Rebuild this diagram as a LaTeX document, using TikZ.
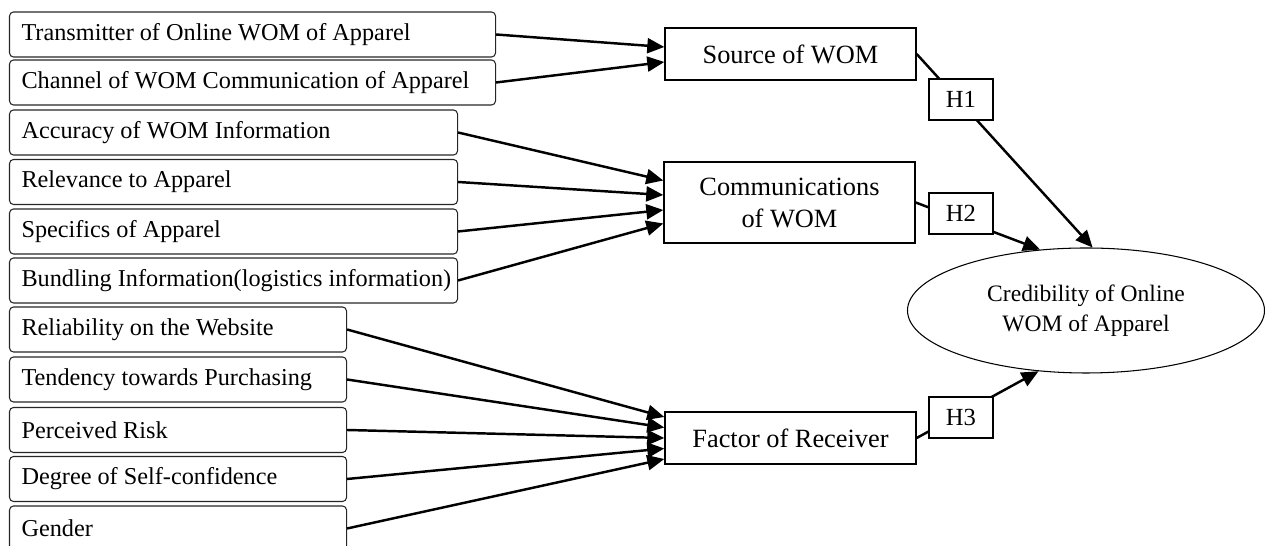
\documentclass[tikz,border=0pt]{standalone}
\usepackage{fontspec}
\setmainfont{Liberation Serif}
\usepackage{tikz}
\usetikzlibrary{arrows.meta,shapes.geometric}
\tikzset{
  cbitem/.style={draw=black!85, line width=0.6pt, rounded corners=0.08cm, anchor=west, minimum height=0.9cm, inner xsep=0.24cm, align=flush left, font=\fontsize{13.8}{16}\selectfont},
  cbitemA/.style={cbitem, text width=9.24cm},
  cbitemB/.style={cbitem, text width=8.48cm},
  cbitemC/.style={cbitem, text width=6.26cm},
  cbmid/.style={draw=black, line width=0.8pt, minimum width=5.02cm, align=center, font=\fontsize{15}{18.2}\selectfont},
  cbhyp/.style={draw=black, line width=0.8pt, fill=white, minimum width=1.28cm, minimum height=0.82cm, inner sep=0pt, font=\fontsize{14}{16}\selectfont},
  cboval/.style={ellipse, draw=black, line width=0.6pt, minimum width=7.14cm, minimum height=2.5cm, align=center, font=\fontsize{13.4}{17}\selectfont},
  cbarrow/.style={line width=1.4pt, -{Triangle[length=0.34cm,width=0.3cm]}},
}

\begin{document}
\begin{tikzpicture}
\useasboundingbox (0,0) rectangle (25.3,10.92);
% left column
\node[cbitemA] (tx) at (0.18,10.230) {Transmitter of Online WOM of Apparel};
\node[cbitemA] (chan) at (0.18,9.270) {Channel of WOM Communication of Apparel};
\node[cbitemB] (acc) at (0.18,8.270) {Accuracy of WOM Information};
\node[cbitemB] (rel) at (0.18,7.280) {Relevance to Apparel};
\node[cbitemB] (spec) at (0.18,6.290) {Specifics of Apparel};
\node[cbitemB] (bund) at (0.18,5.310) {\mbox{Bundling Information(logistics information)}};
\node[cbitemC] (web) at (0.18,4.330) {Reliability on the Website};
\node[cbitemC] (tend) at (0.18,3.330) {Tendency towards Purchasing};
\node[cbitemC] (risk) at (0.18,2.320) {Perceived Risk};
\node[cbitemC] (conf) at (0.18,1.340) {Degree of Self-confidence};
\node[cbitemC] (gender) at (0.18,0.350) {Gender};
% constructs
\node[cbmid, minimum height=1.04cm] (src) at (15.81,9.840) {Source of WOM};
\node[cbmid, minimum height=1.62cm] (comm) at (15.79,6.870) {Communications\\of WOM};
\node[cbmid, minimum height=1.04cm] (rcv) at (15.81,2.160) {Factor of Receiver};
\node[cboval] (cred) at (21.72,4.710) {Credibility of Online\\WOM of Apparel};
% inputs
\draw[cbarrow] (tx.east) -- ([yshift=0.14cm]src.west);
\draw[cbarrow] (chan.east) -- ([yshift=-0.16cm]src.west);
\draw[cbarrow] (acc.east) -- ([yshift=0.44cm]comm.west);
\draw[cbarrow] (rel.east) -- ([yshift=0.15cm]comm.west);
\draw[cbarrow] (spec.east) -- ([yshift=-0.15cm]comm.west);
\draw[cbarrow] (bund.east) -- ([yshift=-0.42cm]comm.west);
\draw[cbarrow] (web.east) -- ([yshift=0.42cm]rcv.west);
\draw[cbarrow] (tend.east) -- ([yshift=0.21cm]rcv.west);
\draw[cbarrow] (risk.east) -- (rcv.west);
\draw[cbarrow] (conf.east) -- ([yshift=-0.21cm]rcv.west);
\draw[cbarrow] (gender.east) -- ([yshift=-0.42cm]rcv.west);
% hypotheses
\draw[cbarrow] (src.east) -- (cred.84);
\draw[cbarrow] (comm.east) -- (cred.127);
\draw[cbarrow] (rcv.east) -- (cred.232);
\node[cbhyp] (h1) at (19.22,8.930) {H1};
\node[cbhyp] (h2) at (19.22,6.650) {H2};
\node[cbhyp] (h3) at (19.22,2.570) {H3};
\end{tikzpicture}
\end{document}
